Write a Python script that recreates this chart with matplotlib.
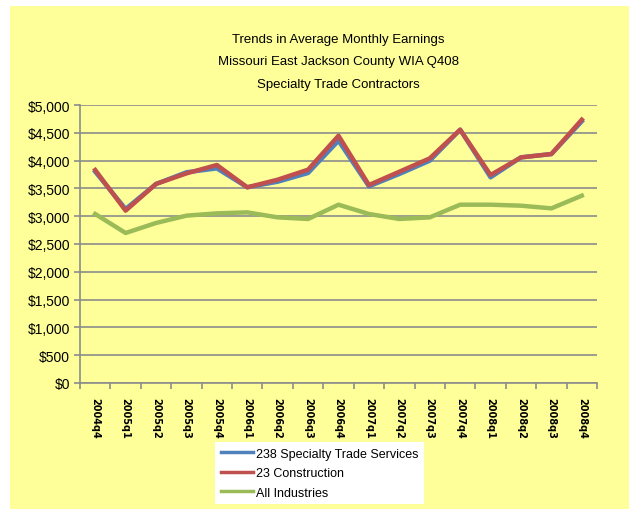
import numpy as np
import matplotlib.pyplot as plt
from matplotlib.patches import Rectangle
from matplotlib.ticker import FuncFormatter, MultipleLocator, FixedLocator

plt.rcParams['font.family'] = ['Liberation Sans Narrow', 'Liberation Sans', 'DejaVu Sans']

quarters = ['2004q4', '2005q1', '2005q2', '2005q3', '2005q4', '2006q1', '2006q2', '2006q3',
            '2006q4', '2007q1', '2007q2', '2007q3', '2007q4', '2008q1', '2008q2', '2008q3', '2008q4']
specialty = [3800, 3130, 3580, 3790, 3860, 3520, 3620, 3777, 4358, 3537, 3759, 3998, 4556, 3699, 4058, 4118, 4706]
construction = [3831, 3100, 3580, 3770, 3921, 3520, 3657, 3837, 4448, 3561, 3800, 4040, 4556, 3741, 4058, 4118, 4736]
all_ind = [3040, 2698, 2878, 3010, 3051, 3069, 2979, 2950, 3207, 3040, 2950, 2979, 3207, 3207, 3189, 3141, 3369]

yellow = '#FFFF99'
W, H = 629, 510
fig = plt.figure(figsize=(W / 100, H / 100), dpi=100, facecolor='white')
fig.patches.append(Rectangle((10 / W, 0), 1 - 10 / W, 1 - 7 / H, transform=fig.transFigure,
                             facecolor=yellow, edgecolor='none', zorder=-5))

ax = fig.add_axes([80 / W, 1 - 384 / H, (597 - 80) / W, (384 - 106) / H])
ax.set_zorder(2)
ax.set_facecolor(yellow)
x = np.arange(len(quarters))
ax.plot(x, specialty, color='#4F81BD', lw=3.2, label='238 Specialty Trade Services', zorder=3)
ax.plot(x, construction, color='#C0504D', lw=3.2, label='23 Construction', zorder=4)
ax.plot(x, all_ind, color='#9BBB59', lw=3.2, label='All Industries', zorder=3)

ax.set_xlim(-0.5, len(quarters) - 0.5)
ax.set_ylim(0, 5000)
ax.yaxis.set_major_locator(MultipleLocator(500))
ax.yaxis.set_major_formatter(FuncFormatter(lambda v, p: f'${v:,.0f}'))
ax.grid(axis='y', color='#8C8C8C', lw=1.2)
ax.set_axisbelow(True)
for s in ['top', 'right']:
    ax.spines[s].set_visible(False)
for s in ['left', 'bottom']:
    ax.spines[s].set_color('#8C8C8C')
    ax.spines[s].set_linewidth(1.2)

ax.xaxis.set_major_locator(FixedLocator(np.arange(-0.5, len(quarters), 1)))
ax.xaxis.set_major_formatter(FuncFormatter(lambda v, p: ''))
ax.set_xticks(x, quarters, minor=True)
ax.tick_params(axis='x', which='major', length=4, color='#8C8C8C', width=1.2)
ax.tick_params(axis='x', which='minor', length=0, pad=10, labelsize=7)
for t in ax.get_xticklabels(minor=True):
    t.set_rotation(270)
    t.set_fontweight('bold')
    t.set_family('DejaVu Sans')
ax.tick_params(axis='y', length=4, color='#8C8C8C', width=1.2, labelsize=10, pad=3)

cx = 0.5 * (80 + 597) / W
fig.text(cx, 1 - 40 / H, 'Trends in Average Monthly Earnings', ha='center', va='center', fontsize=9.5)
fig.text(cx, 1 - 62 / H, 'Missouri East Jackson County WIA Q408', ha='center', va='center', fontsize=9.5)
fig.text(cx, 1 - 85 / H, 'Specialty Trade Contractors', ha='center', va='center', fontsize=9.5)

leg = fig.legend(loc='upper left', bbox_to_anchor=(215 / W, 1 - 443 / H), frameon=True, fontsize=9,
                 handlelength=2.6, handletextpad=0.2, labelspacing=0.6, borderpad=0.45,
                 fancybox=False, borderaxespad=0, framealpha=1)
leg.get_frame().set_facecolor('white')
leg.get_frame().set_edgecolor('none')
for ln in leg.get_lines():
    ln.set_linewidth(2.5)

fig.savefig('out.png', dpi=100, facecolor='white')
